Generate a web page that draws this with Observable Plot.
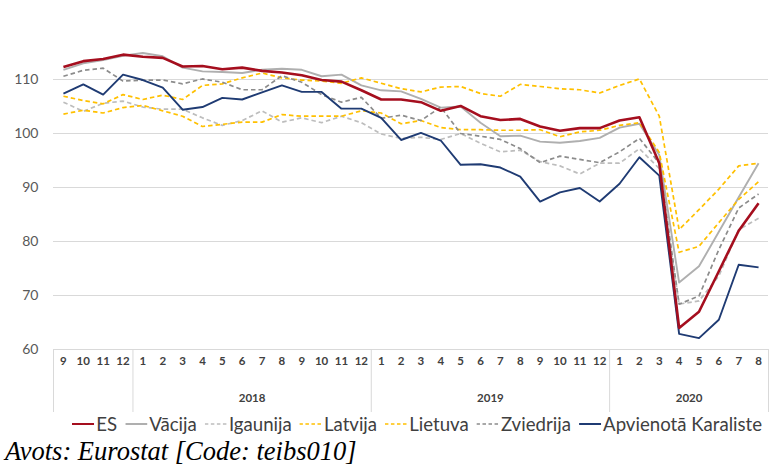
<!DOCTYPE html>
<html>
<head>
<meta charset="utf-8">
<script src="https://cdn.jsdelivr.net/npm/d3@7"></script>
<script src="https://cdn.jsdelivr.net/npm/@observablehq/plot@0.6"></script>
<style>
  html, body { margin: 0; padding: 0; background: #fff; }
  #wrap { width: 777px; height: 465px; position: relative; overflow: hidden; }
  #chart { position: absolute; left: 0; top: 0; }
  #legend { position: absolute; left: 72px; top: 414px; height: 20px; line-height: 20px; display: inline-flex; align-items: center;
            gap: 8px; white-space: nowrap; transform-origin: left center;
            font-family: Lato, "Open Sans", sans-serif; font-size: 18.5px; color: #404040; }
  #legend .item { display: flex; align-items: center; gap: 2px; white-space: nowrap; }
  #caption { position: absolute; left: 5px; top: 438px; line-height: 1; white-space: nowrap;
             font-family: "Liberation Serif", serif; font-style: italic; font-size: 26.5px; color: #000; }
</style>
</head>
<body>
<div id="wrap">
  <div id="chart"></div>
  <div id="legend"></div>
  <div id="caption">Avots: Eurostat [Code: teibs010]</div>
</div>
<script>
// Month tick labels (September 2017 – August 2020)
const monthLabels = ["9","10","11","12","1","2","3","4","5","6","7","8","9","10","11","12",
                     "1","2","3","4","5","6","7","8","9","10","11","12","1","2","3","4","5","6","7","8"];
const yearLabels = ["", "2018", "2019", "2020"];
const yTicks = [60, 70, 80, 90, 100, 110];

const seriesNames = ["ES", "Vācija", "Igaunija", "Latvija", "Lietuva", "Zviedrija", "Apvienotā Karaliste"];

const ES = [112.3,113.4,113.8,114.6,114.2,114.0,112.4,112.5,111.9,112.2,111.6,111.3,110.8,109.9,109.6,108.0,
            106.3,106.3,105.8,104.2,105.1,103.2,102.5,102.7,101.3,100.5,101.0,101.0,102.4,103.0,94.5,64.0,67.0,74.5,82.0,87.1];
const Vacija = [111.8,113.0,113.6,114.4,114.9,114.3,112.2,111.5,111.4,111.2,111.8,112.0,111.8,110.6,110.9,108.9,
            108.0,107.8,106.4,104.8,105.0,102.0,99.5,99.6,98.5,98.3,98.6,99.2,101.1,101.8,96.0,72.4,75.4,81.8,88.2,94.5];
const Igaunija = [105.8,104.1,105.6,106.0,104.9,104.5,104.5,102.9,101.5,102.4,104.2,102.1,102.9,102.0,103.2,102.0,
            99.9,99.1,99.3,98.9,100.0,98.2,96.6,96.9,94.8,94.0,92.5,94.5,94.5,97.2,93.5,68.4,69.0,73.6,82.2,84.3];
const Latvija = [103.6,104.3,103.8,104.8,105.2,104.2,103.2,101.3,101.7,102.1,102.1,103.5,103.2,103.2,103.2,104.2,
            103.8,101.8,102.4,101.1,100.7,100.7,100.6,100.6,100.7,99.4,100.3,100.6,101.5,102.0,96.5,78.0,79.1,83.5,87.8,91.1];
const Lietuva = [106.9,106.1,105.5,107.2,106.3,107.1,106.3,108.9,109.2,110.3,111.2,110.3,109.9,109.7,109.3,110.3,
            109.3,108.3,107.7,108.6,108.7,107.4,106.9,109.1,108.7,108.3,108.1,107.5,108.9,110.1,103.2,82.2,85.9,89.7,94.0,94.5];
const Zviedrija = [110.6,111.7,112.1,109.7,109.9,109.9,109.2,110.1,109.5,108.1,108.1,110.7,109.5,107.2,105.8,106.7,
            102.8,103.4,102.4,104.9,100.0,99.5,98.9,97.2,94.6,95.8,95.2,94.6,96.6,99.1,94.5,68.4,69.9,78.5,86.2,88.8];
const UK = [107.4,109.1,107.2,110.9,109.9,108.5,104.4,104.9,106.6,106.3,107.6,108.9,107.7,107.7,104.6,104.6,
            102.9,98.8,100.1,98.7,94.2,94.3,93.7,92.0,87.4,89.1,89.9,87.4,90.7,95.6,92.2,62.9,62.1,65.5,75.7,75.2];

const seriesValues = [ES, Vacija, Igaunija, Latvija, Lietuva, Zviedrija, UK];

// styles
const styles = {
  "ES":                  {stroke: "#A50E1E", width: 2.6, dash: null},
  "Vācija":              {stroke: "#AFAFAF", width: 1.9, dash: null},
  "Igaunija":            {stroke: "#BDBDBD", width: 1.7, dash: "4.5,3"},
  "Latvija":             {stroke: "#FFC000", width: 1.7, dash: "4.5,3"},
  "Lietuva":             {stroke: "#FFC000", width: 1.7, dash: "4.5,3"},
  "Zviedrija":           {stroke: "#8C8C8C", width: 1.7, dash: "4.5,3"},
  "Apvienotā Karaliste": {stroke: "#1F3B73", width: 1.9, dash: null}
};

// long table
const rows = [];
seriesNames.forEach((name, s) => seriesValues[s].forEach((v, i) => rows.push({series: name, i, value: v})));

// group boundaries and centers derived from month labels
const groupStarts = [0];
monthLabels.forEach((m, i) => { if (m === "1") groupStarts.push(i); });
const groupEdges = [...groupStarts, monthLabels.length].map(i => i - 0.5);
const groupCenters = groupStarts.map((s, k) => (groupEdges[k] + groupEdges[k + 1]) / 2);

const drawOrder = ["Vācija", "Igaunija", "Latvija", "Lietuva", "Zviedrija", "Apvienotā Karaliste", "ES"];

const chart = Plot.plot({
  width: 777,
  height: 415,
  marginTop: 25,
  marginBottom: 66,
  marginLeft: 53,
  marginRight: 9,
  style: {fontFamily: "Lato, 'Open Sans', sans-serif", background: "#fff"},
  x: {type: "linear", domain: [-0.5, monthLabels.length - 0.5], axis: null},
  y: {domain: [60, 120], axis: null},
  marks: [
    Plot.gridY(yTicks, {stroke: "#D9D9D9", strokeOpacity: 1, strokeWidth: 1}),
    Plot.axisY(yTicks, {tickSize: 0, tickPadding: 15, fontSize: 14, color: "#595959", label: null,
                        fontFamily: "Lato, sans-serif"}),
    Plot.axisX(groupEdges, {tickSize: 63, tickFormat: () => "", stroke: "#D9D9D9", strokeOpacity: 1, label: null}),
    Plot.axisX(d3.range(monthLabels.length), {tickSize: 0, tickPadding: 7, tickFormat: i => monthLabels[i],
                        fontSize: 11.5, fontWeight: "bold", color: "#404040", label: null, fontFamily: "Lato, sans-serif"}),
    Plot.axisX(groupCenters, {tickSize: 0, tickPadding: 44, tickFormat: d => yearLabels[groupCenters.indexOf(d)],
                        fontSize: 11.5, fontWeight: "bold", color: "#404040", label: null, fontFamily: "Lato, sans-serif"}),
    ...drawOrder.map(name => Plot.line(rows.filter(r => r.series === name), {
      x: "i", y: "value",
      stroke: styles[name].stroke,
      strokeWidth: styles[name].width,
      strokeDasharray: styles[name].dash,
      strokeLinejoin: "round",
      strokeLinecap: "butt"
    }))
  ]
});
document.getElementById("chart").appendChild(chart);

// legend
const legend = document.getElementById("legend");
seriesNames.forEach(name => {
  const st = styles[name];
  const item = document.createElement("div");
  item.className = "item";
  item.innerHTML = `<svg width="22" height="10"><line x1="0" x2="22" y1="5" y2="5" stroke="${st.stroke}"
     stroke-width="${Math.min(st.width, 2.2)}" ${st.dash ? `stroke-dasharray="3.5,2.5"` : ""}/></svg><span>${name}</span>`;
  legend.appendChild(item);
});
// fit legend to the reference span (narrow, condensed look)
const legendWidth = legend.getBoundingClientRect().width;
legend.style.transform = `scaleX(${690 / legendWidth})`;
</script>
</body>
</html>
